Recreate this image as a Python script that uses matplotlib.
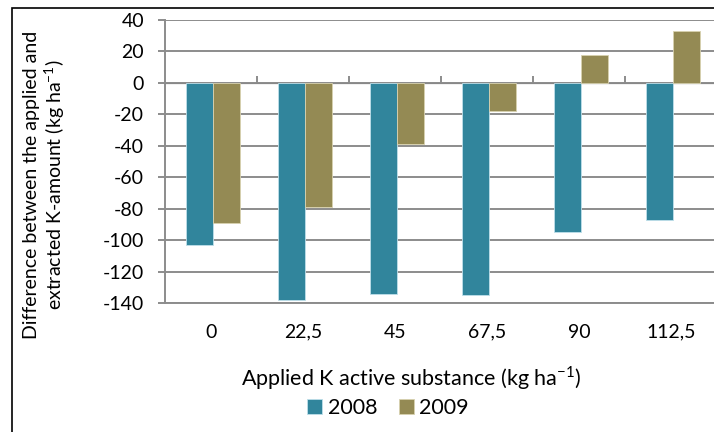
import numpy as np
import matplotlib.pyplot as plt

plt.rcParams['font.family'] = ['Lato', 'DejaVu Sans']

doses = ['0', '22,5', '45', '67,5', '90', '112,5']
y2008 = [-103, -138, -134, -135, -95, -87]
y2009 = [-89, -79, -39, -18, 18, 33]
yticks = [40, 20, 0, -20, -40, -60, -80, -100, -120, -140]

c2008 = '#31859C'
c2009 = '#948A54'
grid_c = '#8c8c8c'

fig = plt.figure(figsize=(7.14, 4.32), dpi=100)
ax = fig.add_axes([165/714, 1-303/432, (717-165)/714, (303-20)/432])

x = np.arange(len(doses))
w = 0.29
b1 = ax.bar(x - w/2 + 0.02, y2008, w, color=c2008, edgecolor='#bfe0ea', linewidth=0.6, label='2008', zorder=3)
b2 = ax.bar(x + w/2 + 0.02, y2009, w, color=c2009, edgecolor='#d8d2b0', linewidth=0.6, label='2009', zorder=3)

ax.set_ylim(-140, 40)
ax.set_xlim(-0.5, len(doses) - 0.5)
ax.set_yticks(yticks)
ax.set_yticklabels([str(v) for v in yticks])
ax.yaxis.grid(True, color=grid_c, linewidth=1.4)
ax.set_axisbelow(True)
for s in ['top', 'right']:
    ax.spines[s].set_visible(False)
ax.spines['left'].set_color(grid_c)
ax.spines['left'].set_linewidth(1.4)
ax.spines['bottom'].set_color(grid_c)
ax.spines['bottom'].set_linewidth(1.4)
ax.tick_params(axis='y', length=5, color=grid_c, width=1.4, labelsize=14, pad=10)
ax.set_xticks(x)
ax.set_xticklabels(doses)
ax.tick_params(axis='x', length=0, labelsize=14, pad=15)

# zero line with category boundary ticks
zero = ax.secondary_xaxis(140/180)
zero.spines['bottom'].set_color(grid_c)
zero.spines['bottom'].set_linewidth(1.4)
zero.set_xticks(np.arange(0.5, len(doses) - 0.5, 1))
zero.set_xticklabels([])
zero.tick_params(axis='x', length=5, color=grid_c, width=1.4)

fig.text(411/714, 1-378/432, 'Applied K active substance (kg ha$^{\\mathregular{-1}}$)',
         ha='center', va='center', fontsize=15.5)
fig.text(45/714, 1-185/432, 'Difference between the applied and\nextracted K-amount (kg ha$^{\\mathregular{-1}}$)',
         rotation=90, ha='center', va='center', fontsize=14, multialignment='center', linespacing=1.15)

fig.legend(handles=[b1, b2], loc='center', bbox_to_anchor=(388/714, 1-408/432), ncol=2,
           frameon=False, fontsize=15.5, handlelength=0.7, handleheight=0.7,
           handletextpad=0.25, columnspacing=1.0, borderpad=0)

# outer frame (right and bottom edges fall outside the picture)
fig.patches.append(plt.Rectangle((12/714, -0.05), 1.05, 1.05 - 8/432, transform=fig.transFigure,
                                 fill=False, edgecolor='black', linewidth=1.2))

fig.savefig('out.png', dpi=100)
